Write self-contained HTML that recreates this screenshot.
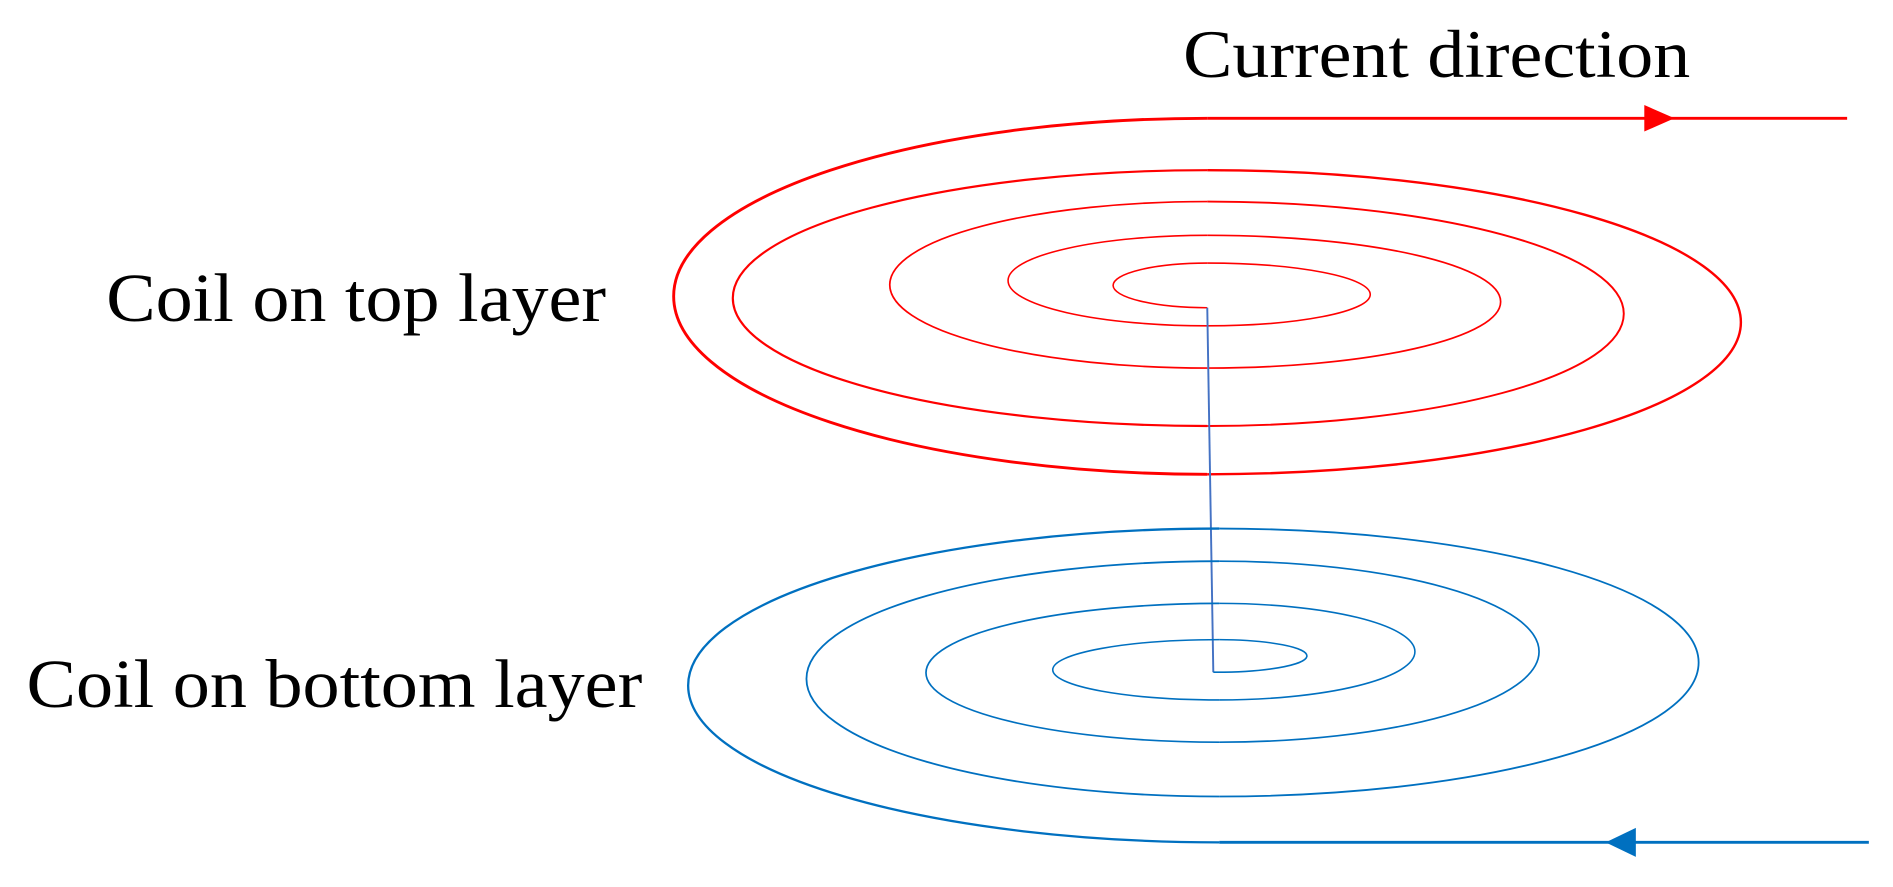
<!DOCTYPE html>
<html><head><meta charset="utf-8"><style>
html,body{margin:0;padding:0;background:#fff;}
svg{display:block;}
text{font-family:"Liberation Serif",serif;fill:#000;}
</style></head><body>
<svg width="1893" height="887" viewBox="0 0 1568 735" preserveAspectRatio="none" xmlns="http://www.w3.org/2000/svg">
<text x="980" y="64" font-size="56" textLength="420" lengthAdjust="spacingAndGlyphs">Current direction</text>
<text x="88" y="266" font-size="57" textLength="414" lengthAdjust="spacingAndGlyphs">Coil on top layer</text>
<text x="22" y="586" font-size="57" textLength="510" lengthAdjust="spacingAndGlyphs">Coil on bottom layer</text>

<g fill="none" stroke="#ff0000">
<path d="M1530 98 L1000 98" stroke-width="2.4"/>
<path d="M1000 98 A442 147.5 0 0 0 1000 393" stroke-width="2.4"/>
<path d="M1000 393 A442 126 0 0 0 1000 141" stroke-width="2"/>
<path d="M1000 141 A393 106 0 0 0 1000 353" stroke-width="1.8"/>
<path d="M1000 353 A345 93 0 0 0 1000 167" stroke-width="1.6"/>
<path d="M1000 167 A263 69 0 0 0 1000 305" stroke-width="1.4"/>
<path d="M1000 305 A243 55 0 0 0 1000 195" stroke-width="1.4"/>
<path d="M1000 195 A165 37.5 0 0 0 1000 270" stroke-width="1.3"/>
<path d="M1000 270 A135 26 0 0 0 1000 218" stroke-width="1.3"/>
<path d="M1000 218 A78 18.5 0 0 0 1000 255" stroke-width="1.3"/>
<polygon points="1362,87 1387,98 1362,109" fill="#ff0000" stroke="none"/>
</g>

<path d="M1000 255 L1005 557" fill="none" stroke="#4472c4" stroke-width="1.6"/>

<g fill="none" stroke="#0070c0">
<path d="M1548 698 L1010 698" stroke-width="2.4"/>
<path d="M1010 698 A440 130 0 0 1 1010 438" stroke-width="1.9"/>
<path d="M1010 438 A397 111 0 0 1 1010 660" stroke-width="1.5"/>
<path d="M1010 660 A342 97.5 0 0 1 1010 465" stroke-width="1.5"/>
<path d="M1010 465 A265 75 0 0 1 1010 615" stroke-width="1.4"/>
<path d="M1010 615 A243 57.5 0 0 1 1010 500" stroke-width="1.4"/>
<path d="M1010 500 A162 40 0 0 1 1010 580" stroke-width="1.3"/>
<path d="M1010 580 A138 25 0 0 1 1010 530" stroke-width="1.3"/>
<path d="M1010 530 A75 13.5 0 0 1 1005 557" stroke-width="1.3"/>
<polygon points="1355,686 1330,698 1355,710" fill="#0070c0" stroke="none"/>
</g>
</svg>
</body></html>
